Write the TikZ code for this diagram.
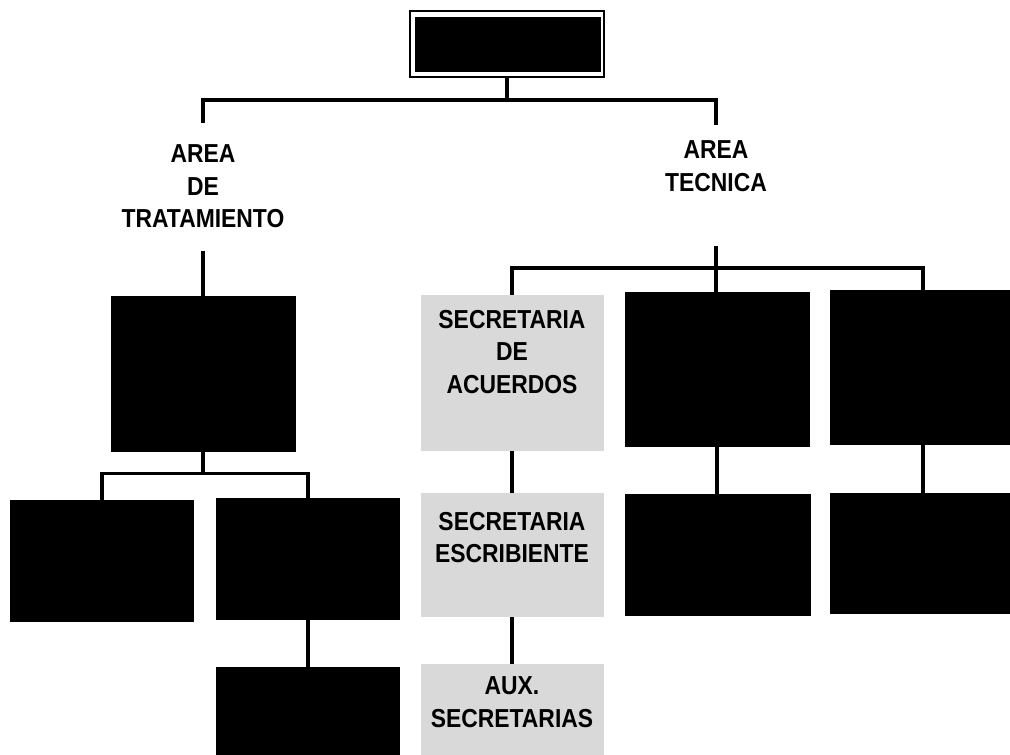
\documentclass[tikz,border=0pt]{standalone}
\usepackage{fontspec}
\setmainfont[FakeStretch=0.88]{Liberation Sans}
\begin{document}
\begin{tikzpicture}[x=0.75pt,y=-0.75pt,
  blk/.style 2 args={fill=black,draw=none,inner sep=0pt,minimum width=#1*0.75pt,minimum height=#2*0.75pt},
  gbox/.style 2 args={fill=black!15,draw=none,inner sep=0pt,minimum width=#1*0.75pt,minimum height=#2*0.75pt},
  txt/.style={inner sep=0pt,align=center,font=\fontsize{19.5pt}{24.5pt}\selectfont\bfseries},
  conn/.style={line width=2.6pt,draw=black}]
\useasboundingbox (0,0) rectangle (1010,754);

% top box
\node[draw=black,line width=1.8pt,fill=white,minimum width=194*0.75pt,minimum height=66*0.75pt,inner sep=0pt] (top) at (507,44) {};
\node[blk={186}{55}] (topin) at (508,44.5) {};

% area labels
\node[txt] (trat) at (203,186.5) {AREA\\DE\\TRATAMIENTO};
\node[txt] (tec) at (716,166.5) {AREA\\TECNICA};

% left column
\node[blk={185}{156}] (t1) at (203,374) {};
\node[blk={184}{122}] (l1) at (102,561) {};
\node[blk={184}{122}] (l2) at (308,559) {};
\node[blk={184}{93}] (l3) at (308,713.5) {};

% middle column
\node[gbox={183}{156},label={[txt,anchor=north,yshift=-11.25pt]north:{SECRETARIA\\DE\\ACUERDOS}}] (s1) at (512,373) {};
\node[gbox={183}{124},label={[txt,anchor=north,yshift=-14.25pt]north:{SECRETARIA\\ESCRIBIENTE}}] (s2) at (512,555) {};
\node[gbox={183}{96},label={[txt,anchor=north,yshift=-9.75pt]north:{AUX.\\SECRETARIAS}}] (s3) at (512,712) {};

% right columns
\node[blk={185}{155}] (a1) at (717,369.5) {};
\node[blk={186}{155}] (b1) at (923,367.5) {};
\node[blk={186}{122}] (a2) at (718,555) {};
\node[blk={186}{121}] (b2) at (923,553.5) {};

\coordinate (h2) at (717,268);

% connectors
\draw[conn,shorten >=16.5pt] (top.south) -- ++(0,22) -| (trat.north);
\draw[conn,shorten >=12pt] (top.south) -- ++(0,22) -| (tec.north);
\draw[conn,shorten <=17pt] (trat.south) -- (t1.north);
\draw[conn] (t1.south) -- ++(0,21) -| (l1.north);
\draw[conn] (t1.south) -- ++(0,21) -| (l2.north);
\draw[conn] (l2.south) -- (l3.north);
\draw[conn,shorten <=40pt] (tec.south) -- (tec.south |- a1.north);
\draw[conn] (s1.north) |- (h2) -| (b1.north);
\draw[conn] (s1.south) -- (s2.north);
\draw[conn] (s2.south) -- (s3.north);
\draw[conn] (a1.south) -- (a1.south |- a2.north);
\draw[conn] (b1.south) -- (b2.north);
\end{tikzpicture}
\end{document}
